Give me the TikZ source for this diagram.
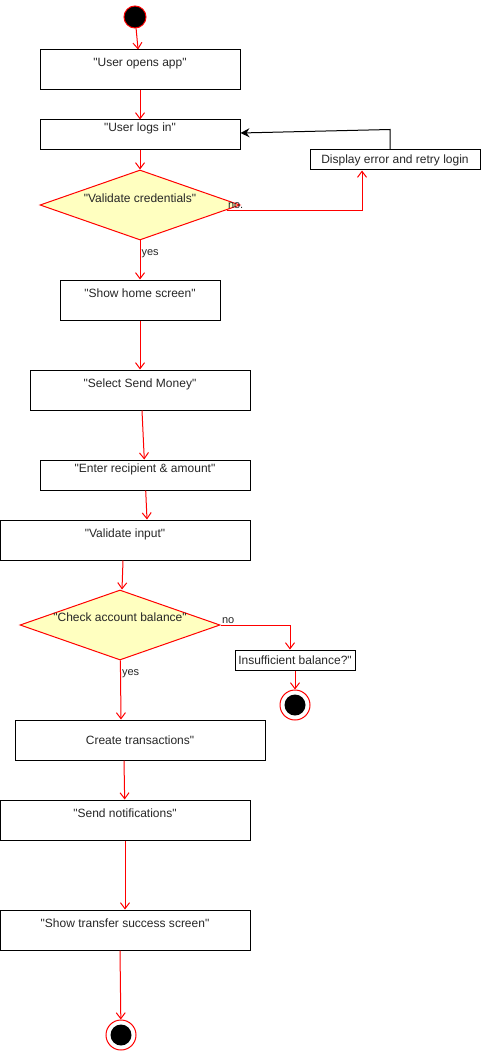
\documentclass[tikz,border=0pt]{standalone}
\usepackage{fontspec}
\setmainfont{Liberation Sans}[Ligatures=TeXOff]
\usepackage{xcolor}
\usetikzlibrary{arrows.meta,shapes.geometric,positioning}
\definecolor{flowred}{HTML}{FF0000}
\definecolor{decidefill}{HTML}{FFFFC0}

\begin{document}
\begin{tikzpicture}[x=1pt,y=1pt,font=\fontsize{12}{14}\selectfont,text=black!85,
 actbox/.style={rectangle,draw=black,line width=1pt,inner sep=0pt},
 tallbox/.style={text height=17pt,text depth=23pt},
 lowbox/.style={text height=12pt,text depth=18pt},
 decide/.style={diamond,aspect=3,draw=flowred,fill=decidefill,line width=1pt,inner sep=0pt,minimum width=200pt,minimum height=70pt},
 initnode/.style={circle,draw=flowred,fill=black,line width=1pt,minimum size=22pt,inner sep=0pt},
 finalnode/.style={circle,draw=flowred,line width=1pt,minimum size=30pt,inner sep=0pt,
  path picture={\fill[black] (path picture bounding box.center) circle (10.5pt);}},
 flow/.style={draw=flowred,line width=1pt,-{Straight Barb[length=6pt,width=9pt]}},
 backflow/.style={draw=black,line width=1pt,-{Stealth[length=9pt,width=9pt,inset=3pt]}},
 edgelabel/.style={font=\fontsize{11}{13}\selectfont,inner sep=1pt}]
 \useasboundingbox (0,0) rectangle (481,-1051);
 \node[initnode] (start) at (135,-17) {};
 \node[actbox,tallbox,minimum width=200pt,below of=start,node distance=53pt,xshift=5pt] (opens) {"User opens app"};
 \node[actbox,lowbox,minimum width=200pt,below of=opens,node distance=65pt] (login) {"User logs in"};
 \node[decide,text height=6pt,text depth=12pt,below of=login,node distance=70pt] (valcred) {"Validate credentials"};
 \node[actbox,minimum width=170pt,minimum height=20pt,right of=login,node distance=255pt,yshift=-25pt] (retry) {Display error and retry login};
 \node[actbox,tallbox,minimum width=160pt,below of=valcred,node distance=95pt] (home) {"Show home screen"};
 \node[actbox,tallbox,minimum width=220pt,below of=home,node distance=90pt] (sendmoney) {"Select Send Money"};
 \node[actbox,lowbox,minimum width=210pt,below of=sendmoney,node distance=85pt,xshift=5pt] (recipient) {"Enter recipient \& amount"};
 \node[actbox,tallbox,minimum width=250pt,below of=recipient,node distance=65pt,xshift=-20pt] (valinput) {"Validate input"};
 \node[decide,text height=6pt,text depth=14pt,below of=valinput,node distance=85pt,xshift=-5pt] (balance) {"Check account balance"};
 \node[actbox,minimum width=120pt,minimum height=20pt,right of=balance,node distance=175pt,yshift=-35pt] (insufficient) {Insufficient balance?"};
 \node[finalnode,below of=insufficient,node distance=45pt] (stop1) {};
 \node[actbox,minimum width=250pt,minimum height=40pt,below of=balance,node distance=115pt,xshift=20pt] (transaction) {Create transactions"};
 \node[actbox,tallbox,minimum width=250pt,below of=transaction,node distance=80pt,xshift=-15pt] (notify) {"Send notifications"};
 \node[actbox,tallbox,minimum width=250pt,below of=notify,node distance=110pt] (success) {"Show transfer success screen"};
 \node[finalnode,below of=success,node distance=105pt,xshift=-4pt] (stop2) {};

 \path (start) edge[flow] (opens)
 (opens) edge[flow] (login)
 (login) edge[flow] (valcred)
 (valcred) edge[flow] node[edgelabel,right,pos=0.35] {yes} (home)
 (home) edge[flow] (sendmoney)
 ([xshift=2pt]sendmoney.south) edge[flow] (recipient)
 (recipient) edge[flow] ([xshift=22pt]valinput.north)
 ([xshift=-2pt]valinput.south) edge[flow] ([xshift=2pt]balance.north)
 (balance) edge[flow] node[edgelabel,right,pos=0.22] {yes} ([xshift=-19pt]transaction.north)
 ([xshift=-16pt]transaction.south) edge[flow] (notify)
 (notify) edge[flow] (success)
 ([xshift=-5pt]success.south) edge[flow] (stop2)
 (insufficient) edge[flow] (stop1);
 \draw[flow] ([shift={(-14pt,-5pt)}]valcred.east) node[edgelabel,above right] {no.} -| ([xshift=-33pt]retry.south);
 \draw[flow] (balance.east) node[edgelabel,above right] {no} -| ([xshift=-5pt]insufficient.north);
 \draw[backflow] ([xshift=-5pt]retry.north) -- ++(0,20) -- ([yshift=2pt]login.east);
\end{tikzpicture}
\end{document}
